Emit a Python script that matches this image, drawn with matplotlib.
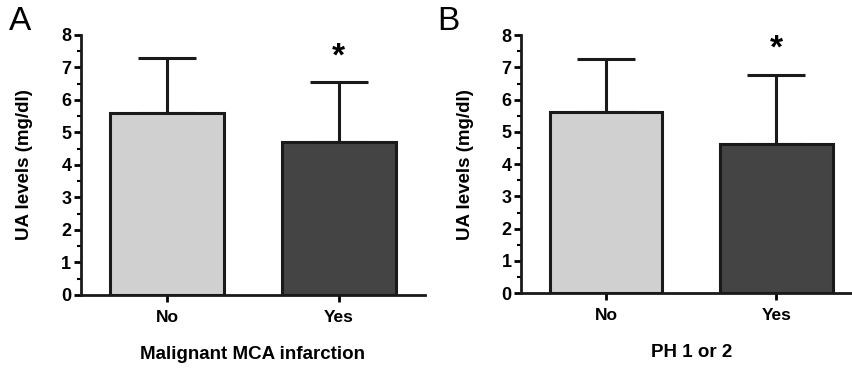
import numpy as np
import matplotlib.pyplot as plt
from matplotlib.ticker import MultipleLocator

plt.rcParams['font.family'] = ['Liberation Sans', 'DejaVu Sans']

groups = ["No", "Yes"]
mca_mean = [5.6, 4.72]
mca_sd = [1.68, 1.82]
ph_mean = [5.62, 4.62]
ph_sd = [1.63, 2.16]
xlabels = ["Malignant MCA infarction", "PH 1 or 2"]
letters = ["A", "B"]
colors = ["#d0d0d0", "#444444"]

fig = plt.figure(figsize=(8.53, 3.71), dpi=100)
axA = fig.add_axes([0.095, 0.205, 0.403, 0.701])
axB = fig.add_axes([0.611, 0.210, 0.399, 0.695])

for ax, means, sds, xl, letter in zip([axA, axB], [mca_mean, ph_mean],
                                      [mca_sd, ph_sd], xlabels, letters):
    x = np.arange(len(groups))
    ax.bar(x, means, width=0.66, color=colors, edgecolor="#1a1a1a",
           linewidth=2.2, zorder=2)
    ax.errorbar(x, means, yerr=[np.zeros(len(sds)), sds], fmt="none",
                ecolor="#1a1a1a", elinewidth=2.2, capsize=21, capthick=2.2,
                zorder=1)
    # significance marker over the second group
    ax.text(x[1], means[1] + sds[1] + 0.3, "*", ha="center", va="bottom",
            fontsize=24, fontweight="bold")
    ax.set_xlim(-0.5, 1.5)
    ax.set_ylim(0, 8)
    ax.set_xticks(x)
    ax.set_xticklabels(groups, fontsize=12.5, fontweight="bold")
    ax.yaxis.set_major_locator(MultipleLocator(1))
    ax.yaxis.set_minor_locator(MultipleLocator(0.5))
    for lab in ax.get_yticklabels():
        lab.set_fontweight("bold")
        lab.set_fontsize(13)
    ax.tick_params(axis="both", which="major", length=5, width=2, pad=2)
    ax.tick_params(axis="y", which="minor", length=3, width=1.5)
    ax.tick_params(axis="x", pad=6)
    for s in ["top", "right"]:
        ax.spines[s].set_visible(False)
    for s in ["left", "bottom"]:
        ax.spines[s].set_linewidth(2)
        ax.spines[s].set_color("#1a1a1a")
    ax.set_ylabel("UA levels (mg/dl)", fontsize=13.5, fontweight="bold",
                  labelpad=20)
    ax.set_xlabel(xl, fontsize=13.5, fontweight="bold", labelpad=15)

fig.text(0.010, 0.985, "A", fontsize=24, va="top", ha="left")
fig.text(0.513, 0.985, "B", fontsize=24, va="top", ha="left")

fig.savefig("out.png", dpi=100)
